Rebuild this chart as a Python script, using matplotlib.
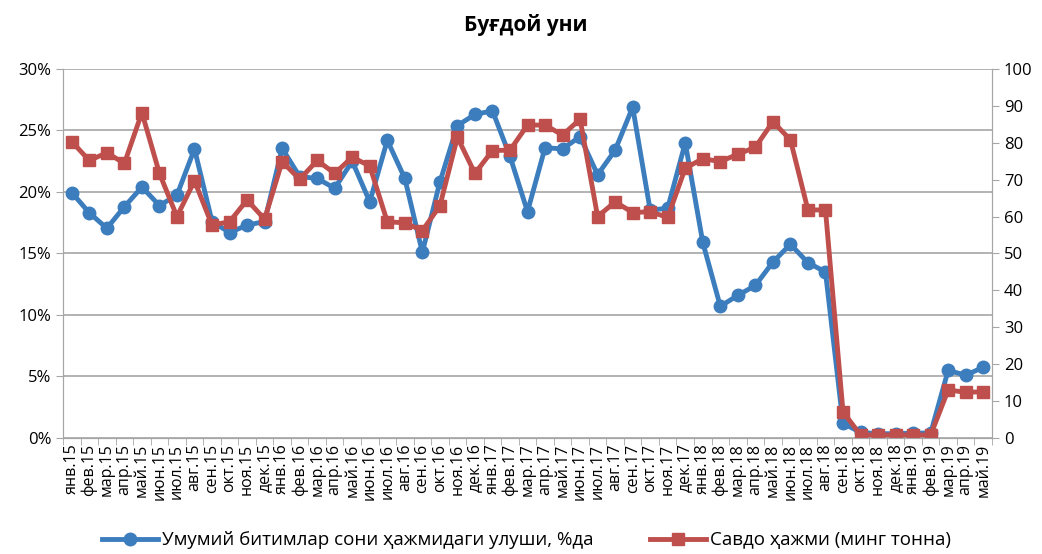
import numpy as np
import matplotlib
matplotlib.use('Agg')
import matplotlib.pyplot as plt
from matplotlib.ticker import FixedLocator

plt.rcParams['font.family'] = ['Open Sans', 'DejaVu Sans']

# month labels
months = ['янв', 'фев', 'мар', 'апр', 'май', 'июн', 'июл', 'авг', 'сен', 'окт', 'ноя', 'дек']
labels = [m + '.' + y for y in ['15', '16', '17', '18'] for m in months] + \
         [m + '.19' for m in months[:5]]

# share in total number of deals, %
share = [19.95, 18.3, 17.05, 18.8, 20.4, 18.9, 19.75, 23.5, 17.6, 16.7, 17.3, 17.6,
         23.55, 21.25, 21.1, 20.3, 22.5, 19.2, 24.2, 21.1, 15.1, 20.8, 25.4, 26.3,
         26.6, 22.9, 18.4, 23.6, 23.5, 24.5, 21.4, 23.4, 26.9, 18.5, 18.7, 24.0,
         15.9, 10.7, 11.6, 12.4, 14.3, 15.75, 14.25, 13.5, 1.2, 0.45, 0.35, 0.35,
         0.4, 0.4, 5.5, 5.1, 5.75]

# trade volume, thousand tonnes
volume = [80.3, 75.2, 77.3, 74.4, 88.2, 71.7, 60.0, 69.7, 57.7, 58.6, 64.5, 59.3,
          74.9, 70.1, 75.2, 71.7, 76.1, 73.7, 58.6, 58.3, 56.2, 62.9, 81.5, 71.7,
          77.9, 78.0, 84.8, 84.8, 82.1, 86.4, 60.0, 64.0, 61.1, 61.3, 59.8, 73.1,
          75.7, 74.9, 76.9, 78.8, 85.7, 80.8, 61.8, 61.8, 7.1, 0.8, 0.8, 0.8,
          0.8, 0.8, 13.0, 12.4, 12.5]

blue = '#3C7DBE'
red = '#BE4F4C'
grey = '#A6A6A6'

x = np.arange(len(labels))

fig = plt.figure(figsize=(10.42, 5.54), dpi=100)
ax1 = fig.add_axes([0.0605, 0.2094, 0.8915, 0.6661])
ax2 = ax1.twinx()

l1, = ax1.plot(x, share, color=blue, lw=3.5, marker='o', ms=9,
               label='Умумий битимлар сони ҳажмидаги улуши, %да')
l2, = ax2.plot(x, volume, color=red, lw=3.5, marker='s', ms=9,
               label='Савдо ҳажми (минг тонна)')

ax1.set_xlim(-0.5, len(labels) - 0.5)
ax1.set_ylim(0, 30)
ax2.set_ylim(0, 100)
ax1.set_yticks(np.arange(0, 31, 5))
ax1.set_yticklabels([f'{v}%' for v in range(0, 31, 5)])
ax2.set_yticks(np.arange(0, 101, 10))

ax1.set_xticks(x)
ax1.set_xticklabels(labels, rotation=90, fontsize=11.5)
ax1.xaxis.set_minor_locator(FixedLocator(np.arange(-0.5, len(labels), 1)))
ax1.tick_params(axis='x', which='major', length=0, pad=4)
ax1.tick_params(axis='x', which='minor', length=5, color=grey)
ax1.tick_params(axis='y', length=5, color=grey, labelsize=12)
ax2.tick_params(axis='y', length=5, color=grey, labelsize=12)

ax1.grid(axis='y', color=grey, lw=1.2)
ax1.set_axisbelow(True)
for ax in (ax1, ax2):
    for s in ax.spines.values():
        s.set_color(grey)
    ax.spines['top'].set_visible(False)

fig.text(0.505, 0.955, 'Буғдой уни', ha='center', va='center',
         fontsize=15, fontweight='bold')

fig.legend(handles=[l1, l2], loc='lower center', bbox_to_anchor=(0.505, -0.022),
           ncol=2, frameon=False, fontsize=13.5, handlelength=3.0,
           columnspacing=3.0, handletextpad=0.2)

fig.savefig('out.png', dpi=100)
